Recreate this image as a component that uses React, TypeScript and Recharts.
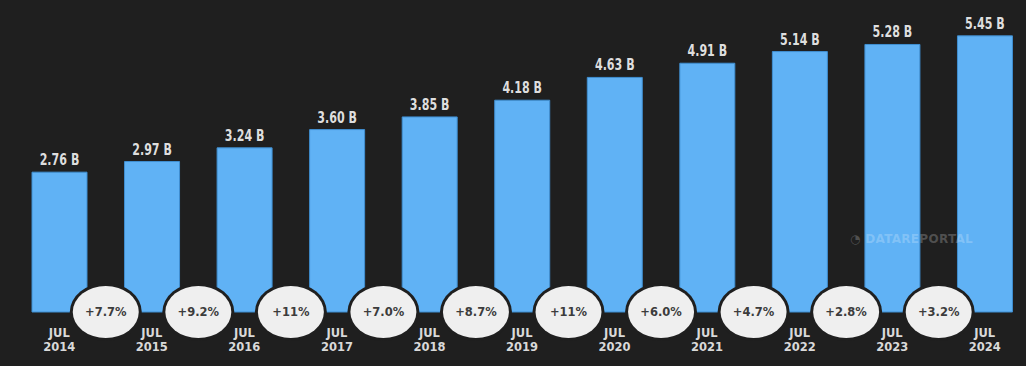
import React from "react";
import { BarChart, Bar, XAxis, YAxis, LabelList } from "recharts";

const YEARS = ["2014", "2015", "2016", "2017", "2018", "2019", "2020", "2021", "2022", "2023", "2024"];
const USERS = [2.76, 2.97, 3.24, 3.6, 3.85, 4.18, 4.63, 4.91, 5.14, 5.28, 5.45];
// growth from each year to the next one
const GROWTH = ["+7.7%", "+9.2%", "+11%", "+7.0%", "+8.7%", "+11%", "+6.0%", "+4.7%", "+2.8%", "+3.2%"];

const W = 1026;
const H = 366;
const MARGIN = { top: 8, right: -5, left: 13, bottom: 0 };
const BG = "#1f1f1f";
const BLUE = "#60b2f5";

const data = YEARS.map((year, i) => ({
  year,
  users: USERS[i],
  growth: GROWTH[i] ?? null,
}));

const pitch = (W - MARGIN.left - MARGIN.right) / YEARS.length;

function YearTick(props: any) {
  const { x, y, payload } = props;
  return (
    <text
      x={x}
      y={y}
      textAnchor="middle"
      fill="#d9d9d9"
      fontFamily="'DejaVu Sans', sans-serif"
      fontWeight={700}
      fontSize={11.5}
    >
      <tspan x={x} dy={25}>JUL</tspan>
      <tspan x={x} dy={14}>{payload.value}</tspan>
    </text>
  );
}

function ValueLabel(props: any) {
  const { x, y, width, value } = props;
  // condensed look: squeeze horizontally around the label anchor
  return (
    <g transform={`translate(${x + width / 2}, ${y - 7}) scale(0.74, 1)`}>
      <text
        x={0}
        y={0}
        textAnchor="middle"
        fill="#dedede"
        fontFamily="'DejaVu Sans', sans-serif"
        fontWeight={700}
        fontSize={15}
      >
        {value.toFixed(2)} B
      </text>
    </g>
  );
}

function GrowthBubble(props: any) {
  const { x, y, width, height, value } = props;
  if (!value) return null;
  const cx = x + width / 2 + pitch / 2;
  const cy = y + height;
  return (
    <g>
      <ellipse cx={cx} cy={cy} rx={36} ry={29} fill={BG} />
      <ellipse cx={cx} cy={cy} rx={33} ry={26} fill="#efefef" />
      <text
        x={cx}
        y={cy + 4}
        textAnchor="middle"
        fill="#3c3c3c"
        fontFamily="'DejaVu Sans', sans-serif"
        fontWeight={700}
        fontSize={11.5}
      >
        {value}
      </text>
    </g>
  );
}

export default function App() {
  return (
    <div style={{ position: "absolute", left: 0, top: 0, width: W, height: H, background: BG }}>
      <BarChart width={W} height={H} data={data} margin={MARGIN}>
        <XAxis
          dataKey="year"
          height={54}
          axisLine={false}
          tickLine={false}
          tickSize={0}
          tickMargin={0}
          interval={0}
          tick={<YearTick />}
        />
        <YAxis hide domain={[0, 6]} />
        <Bar dataKey="users" fill={BLUE} stroke="#3f8fd2" strokeWidth={1} barSize={55} isAnimationActive={false}>
          <LabelList dataKey="users" content={<ValueLabel />} />
          <LabelList dataKey="growth" content={<GrowthBubble />} />
        </Bar>
      </BarChart>
      <div
        style={{
          position: "absolute",
          left: 850,
          top: 232,
          color: "rgba(255,255,255,0.22)",
          fontFamily: "'DejaVu Sans', sans-serif",
          fontWeight: 700,
          fontSize: 12,
          letterSpacing: 0.3,
        }}
      >
        ◔ DATAREPORTAL
      </div>
    </div>
  );
}
